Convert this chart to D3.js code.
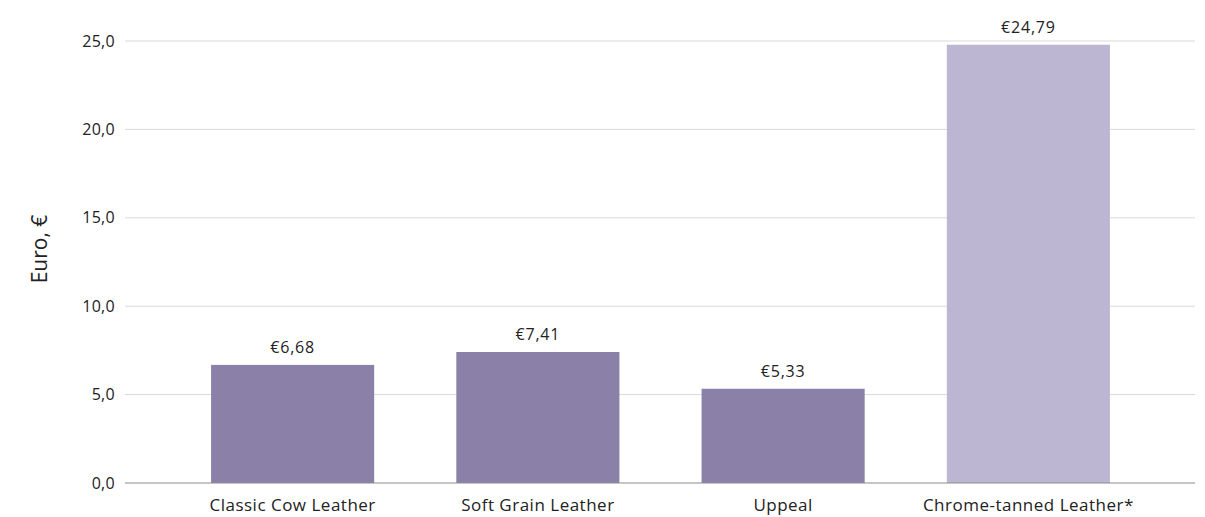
<!DOCTYPE html>
<html>
<head>
<meta charset="utf-8">
<script src="https://cdn.jsdelivr.net/npm/d3@7"></script>
<style>
  body { margin: 0; background: #fff; }
  text { font-family: "Open Sans", Lato, sans-serif; fill: #222; }
</style>
</head>
<body>
<div id="chart"></div>
<script>

var width = 1205,
    height = 517;

// data
var categories = ["Classic Cow Leather", "Soft Grain Leather", "Uppeal", "Chrome-tanned Leather*"];
var values = [6.68, 7.41, 5.33, 24.79];
var valueLabels = ["€6,68", "€7,41", "€5,33", "€24,79"];
var barColors = ["#8b80a8", "#8b80a8", "#8b80a8", "#bcb6d2"];
var yTicks = [0, 5, 10, 15, 20, 25];

var gridLeft = 125, gridRight = 1195;

var x = d3.scaleBand()
    .domain(categories)
    .range([170, 1151])
    .paddingInner(0.335)
    .paddingOuter(0.1675);

var y = d3.scaleLinear()
    .domain([0, 25])
    .range([483, 41]);

var svg = d3.select("#chart").append("svg")
    .attr("width", width)
    .attr("height", height);

// gridlines
svg.selectAll(".grid")
    .data(yTicks.filter(function(d){ return d > 0; }))
  .enter().append("line")
    .attr("class", "grid")
    .attr("x1", gridLeft)
    .attr("x2", gridRight)
    .attr("y1", function(d){ return y(d); })
    .attr("y2", function(d){ return y(d); })
    .attr("stroke", "#d9d9d9")
    .attr("stroke-width", 1);

// y tick labels
svg.selectAll(".ytick")
    .data(yTicks)
  .enter().append("text")
    .attr("class", "ytick")
    .attr("x", 115)
    .attr("y", function(d){ return y(d); })
    .attr("dy", "0.35em")
    .attr("text-anchor", "end")
    .attr("font-size", 16)
    .attr("letter-spacing", 0.3)
    .text(function(d){ return d3.format(".1f")(d).replace(".", ","); });

// axis title
svg.append("text")
    .attr("transform", "translate(47,249) rotate(-90)")
    .attr("text-anchor", "middle")
    .attr("font-size", 21)
    .text("Euro, €");

// bars
svg.selectAll(".bar")
    .data(values)
  .enter().append("rect")
    .attr("class", "bar")
    .attr("x", function(d, i){ return x(categories[i]); })
    .attr("width", x.bandwidth())
    .attr("y", function(d){ return y(d); })
    .attr("height", function(d){ return y(0) - y(d); })
    .attr("fill", function(d, i){ return barColors[i]; });

// baseline
svg.append("line")
    .attr("x1", gridLeft)
    .attr("x2", gridRight)
    .attr("y1", y(0))
    .attr("y2", y(0))
    .attr("stroke", "#8c8c8c")
    .attr("stroke-width", 1.2);

// value labels
svg.selectAll(".vlabel")
    .data(values)
  .enter().append("text")
    .attr("class", "vlabel")
    .attr("x", function(d, i){ return x(categories[i]) + x.bandwidth() / 2; })
    .attr("y", function(d){ return y(d) - 12; })
    .attr("text-anchor", "middle")
    .attr("font-size", 16)
    .attr("letter-spacing", 0.8)
    .text(function(d, i){ return valueLabels[i]; });

// category labels
svg.selectAll(".xlabel")
    .data(categories)
  .enter().append("text")
    .attr("class", "xlabel")
    .attr("x", function(d){ return x(d) + x.bandwidth() / 2; })
    .attr("y", 511)
    .attr("text-anchor", "middle")
    .attr("font-size", 17)
    .attr("letter-spacing", 0.5)
    .text(function(d){ return d; });

</script>
</body>
</html>
